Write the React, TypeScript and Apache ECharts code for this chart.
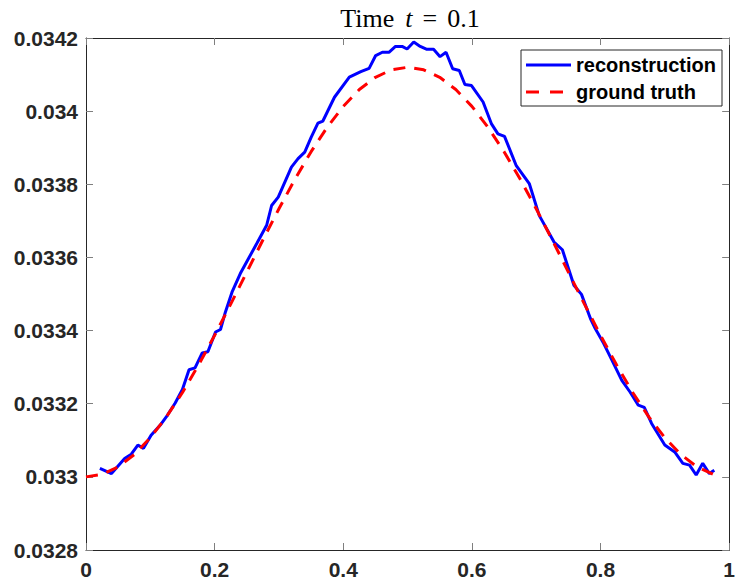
import React, { useEffect, useRef } from "react";
import * as echarts from "echarts";

// reconstruction curve: [x, value]
const reconX = [
  0.0216, 0.0396, 0.0601, 0.0704, 0.0806, 0.0894, 0.1012, 0.1166, 0.1268, 0.1387,
  0.1499, 0.1602, 0.1695, 0.1807, 0.1895, 0.2014, 0.2091, 0.2168, 0.227, 0.2399,
  0.2527, 0.2655, 0.2809, 0.2886, 0.2989, 0.3194, 0.3297, 0.3401, 0.3502, 0.3606,
  0.3683, 0.3863, 0.4094, 0.4273, 0.4402, 0.4504, 0.4607, 0.471, 0.4812, 0.4915,
  0.4992, 0.5096, 0.5197, 0.53, 0.5404, 0.5505, 0.5598, 0.5701, 0.5804, 0.5891,
  0.5994, 0.6174, 0.6302, 0.6405, 0.6507, 0.6687, 0.6892, 0.7046, 0.7277, 0.7407,
  0.7586, 0.7704, 0.7843, 0.792, 0.8048, 0.8177, 0.8331, 0.8459, 0.8587, 0.868,
  0.8794, 0.8999, 0.9153, 0.928, 0.9384, 0.9487, 0.9589, 0.9692, 0.9769,
];
const reconY = [
  0.033023, 0.033009, 0.03305, 0.033062, 0.033087, 0.033078, 0.033114, 0.033144, 0.033169, 0.033202,
  0.033239, 0.033293, 0.033298, 0.033339, 0.033342, 0.033396, 0.033403, 0.033451, 0.033505, 0.033556,
  0.033597, 0.033638, 0.033688, 0.033742, 0.033765, 0.033847, 0.03387, 0.033888, 0.033929, 0.033967,
  0.033973, 0.034038, 0.034093, 0.034108, 0.034117, 0.034152, 0.034161, 0.034161, 0.034177, 0.034177,
  0.03417, 0.034189, 0.034177, 0.034169, 0.034169, 0.034149, 0.034161, 0.034116, 0.034111, 0.034073,
  0.03407, 0.034025, 0.033966, 0.033938, 0.033931, 0.033852, 0.033802, 0.033715, 0.033642, 0.033621,
  0.033524, 0.033499, 0.033433, 0.033405, 0.033365, 0.033319, 0.033264, 0.033232, 0.033196, 0.03319,
  0.033146, 0.033087, 0.033068, 0.033037, 0.033032, 0.033005, 0.033037, 0.033009, 0.033018,
];

// ground truth curve
const truthX = [
  0, 0.025, 0.05, 0.075, 0.1, 0.125, 0.15, 0.175, 0.2, 0.225,
  0.25, 0.275, 0.3, 0.325, 0.35, 0.375, 0.4, 0.425, 0.45, 0.475,
  0.5, 0.525, 0.55, 0.575, 0.6, 0.625, 0.65, 0.675, 0.7, 0.725,
  0.75, 0.775, 0.8, 0.825, 0.85, 0.875, 0.9, 0.925, 0.95, 0.975,
];
const truthY = [
  0.033, 0.0330069, 0.0330274, 0.033061, 0.0331069, 0.033164, 0.0332308, 0.0333058, 0.0333869, 0.0334724,
  0.03356, 0.0336476, 0.0337331, 0.0338142, 0.0338892, 0.033956, 0.0340131, 0.034059, 0.0340926, 0.0341131,
  0.03412, 0.0341131, 0.0340926, 0.034059, 0.0340131, 0.033956, 0.0338892, 0.0338142, 0.0337331, 0.0336476,
  0.03356, 0.0334724, 0.0333869, 0.0333058, 0.0332308, 0.033164, 0.0331069, 0.033061, 0.0330274, 0.0330069,
];

const seriesNames = ["reconstruction", "ground truth"];
const titleParts = ["Time", "t", "=", "0.1"];

const AXIS_COLOR = "#262626";
const LABEL_FONT = "Liberation Sans, Arial, Helvetica, sans-serif";
const SERIF = "Liberation Serif, Times New Roman, serif";

export default function App() {
  const ref = useRef<HTMLDivElement>(null);

  useEffect(() => {
    if (!ref.current) return;
    const chart = echarts.init(ref.current, undefined, { renderer: "svg" });

    const recon = reconX.map((x, i) => [x, reconY[i]]);
    const truth = truthX.map((x, i) => [x, truthY[i]]);

    const fmtY = (v: number) => parseFloat(v.toFixed(4)).toString();
    const fmtX = (v: number) => parseFloat(v.toFixed(2)).toString();

    const baseX = {
      type: "value" as const,
      min: 0,
      max: 1,
      interval: 0.2,
      splitLine: { show: false },
      axisLine: { show: true, onZero: false, lineStyle: { color: AXIS_COLOR, width: 1 } },
      axisTick: { show: true, inside: true, length: 7, lineStyle: { color: "#7f7f7f", width: 1 } },
    };
    const baseY = {
      type: "value" as const,
      min: 0.0328,
      max: 0.0342,
      interval: 0.0002,
      splitLine: { show: false },
      axisLine: { show: true, onZero: false, lineStyle: { color: AXIS_COLOR, width: 1 } },
      axisTick: { show: true, inside: true, length: 7, lineStyle: { color: "#7f7f7f", width: 1 } },
    };

    chart.setOption({
      animation: false,
      backgroundColor: "#ffffff",
      grid: { left: 86, right: 4, top: 38, bottom: 32, containLabel: false },
      xAxis: [
        {
          ...baseX,
          position: "bottom",
          axisLabel: {
            show: true,
            formatter: fmtX,
            color: AXIS_COLOR,
            fontWeight: "bold",
            fontSize: 21,
            fontFamily: LABEL_FONT,
            margin: 9,
          },
        },
        { ...baseX, position: "top", axisLabel: { show: false } },
      ],
      yAxis: [
        {
          ...baseY,
          position: "left",
          axisLabel: {
            show: true,
            formatter: fmtY,
            color: AXIS_COLOR,
            fontWeight: "bold",
            fontSize: 21,
            fontFamily: LABEL_FONT,
            margin: 8,
          },
        },
        { ...baseY, position: "right", axisLabel: { show: false } },
      ],
      series: [
        {
          name: seriesNames[0],
          type: "line",
          data: recon,
          showSymbol: false,
          symbol: "none",
          lineStyle: { color: "#0000ff", width: 3 },
          z: 2,
        },
        {
          name: seriesNames[1],
          type: "line",
          data: truth,
          showSymbol: false,
          symbol: "none",
          lineStyle: { color: "#ff0000", width: 3, type: [12, 9] },
          z: 3,
        },
      ],
      graphic: [
        {
          type: "text",
          x: 410,
          y: 18,
          style: {
            text: `{a|${titleParts[0]}}{b|${titleParts[1]}}{c|${titleParts[2]}}{a|${titleParts[3]}}`,
            align: "center",
            verticalAlign: "middle",
            rich: {
              a: { fontFamily: SERIF, fontSize: 26, fill: "#000" },
              b: { fontFamily: SERIF, fontSize: 26, fontStyle: "italic", fill: "#000", padding: [0, 0, 0, 11] },
              c: { fontFamily: SERIF, fontSize: 26, fill: "#000", padding: [0, 10, 0, 10] },
            },
          },
          z: 10,
        },
        {
          type: "group",
          z: 10,
          children: [
            {
              type: "rect",
              shape: { x: 521, y: 50, width: 201, height: 56 },
              style: { fill: "#ffffff", stroke: AXIS_COLOR, lineWidth: 1 },
            },
            {
              type: "line",
              shape: { x1: 526, y1: 65, x2: 571, y2: 65 },
              style: { stroke: "#0000ff", lineWidth: 3 },
            },
            {
              type: "line",
              shape: { x1: 526, y1: 92, x2: 571, y2: 92 },
              style: { stroke: "#ff0000", lineWidth: 3, lineDash: [13, 11] },
            },
            {
              type: "text",
              x: 576,
              y: 65,
              style: {
                text: seriesNames[0],
                fontFamily: LABEL_FONT,
                fontWeight: "bold",
                fontSize: 20,
                fill: "#000",
                verticalAlign: "middle",
                align: "left",
              },
            },
            {
              type: "text",
              x: 576,
              y: 92,
              style: {
                text: seriesNames[1],
                fontFamily: LABEL_FONT,
                fontWeight: "bold",
                fontSize: 20,
                fill: "#000",
                verticalAlign: "middle",
                align: "left",
              },
            },
          ],
        },
      ],
    });

    return () => chart.dispose();
  }, []);

  return (
    <div
      ref={ref}
      style={{ position: "fixed", left: 0, top: 0, width: 738, height: 582, background: "#fff" }}
    />
  );
}
